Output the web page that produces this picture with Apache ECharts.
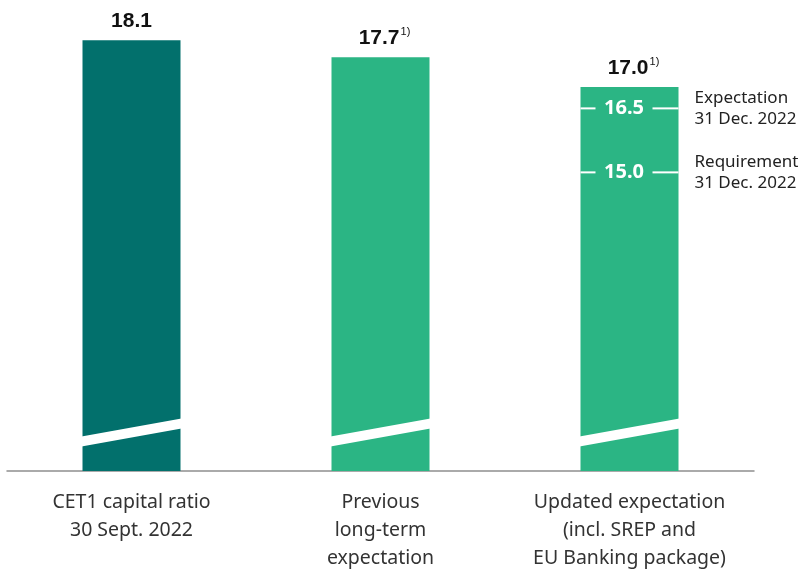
<!DOCTYPE html>
<html>
<head>
<meta charset="utf-8">
<title>CET1 capital ratio</title>
<script src="https://cdn.jsdelivr.net/npm/echarts@6/dist/echarts.min.js"></script>
<style>
  html, body { margin: 0; padding: 0; background: #ffffff; }
  #chart { width: 801px; height: 570px; }
</style>
</head>
<body>
<div id="chart"></div>
<script>
// Categories and CET1 ratios (%)
const categories = [
  'CET1 capital ratio\n30 Sept. 2022',
  'Previous\nlong-term\nexpectation',
  'Updated expectation\n(incl. SREP and\nEU Banking package)'
];
const ratios = [18.1, 17.7, 17.0];
const footnotes = ['', '1)', '1)'];

// Reference levels shown inside the third bar
const markerCategory = 2;
const markerValues = [16.5, 15.0];
const markerNotes = [
  ['Expectation', '31 Dec. 2022'],
  ['Requirement', '31 Dec. 2022']
];

// Value where the bars are visually cut (the axis does not start at zero)
const axisBreakAt = 8.9;

// Styling
const BAR_COLORS = ['#02706c', '#2bb584', '#2bb584'];
const BAR_WIDTH = 98;
const NUM_FONT = '"Liberation Sans", Arial, sans-serif';
const TEXT_FONT = '"Noto Sans", "Open Sans", sans-serif';

const chart = echarts.init(document.getElementById('chart'), null, { renderer: 'canvas' });

const barData = ratios.map((v, i) => ({
  value: v,
  itemStyle: { color: BAR_COLORS[i] },
  label: footnotes[i] ? { offset: [4, 0] } : {}
}));

const option = {
  backgroundColor: '#ffffff',
  animation: false,
  grid: { left: 7, right: 47, top: 6, bottom: 99, containLabel: false, outerBoundsMode: 'none' },
  xAxis: {
    type: 'category',
    data: categories,
    axisTick: { show: false },
    axisLine: { lineStyle: { color: '#8f8f8f', width: 1.5 } },
    axisLabel: {
      interval: 0,
      margin: 17,
      fontFamily: TEXT_FONT,
      fontSize: 19.5,
      lineHeight: 28,
      color: '#333333'
    }
  },
  yAxis: {
    type: 'value',
    min: 8,
    max: 18.9,
    show: false,
    splitLine: { show: false }
  },
  series: [
    {
      type: 'bar',
      data: barData,
      barWidth: BAR_WIDTH,
      z: 2,
      label: {
        show: true,
        position: 'top',
        distance: 7,
        formatter: (p) => {
          const fn = footnotes[p.dataIndex];
          return '{v|' + p.value.toFixed(1) + '}' + (fn ? '{s|' + fn + '}' : '');
        },
        rich: {
          v: { fontFamily: NUM_FONT, fontSize: 21, fontWeight: 'bold', color: '#111111', lineHeight: 24 },
          s: { fontFamily: NUM_FONT, fontSize: 11, color: '#111111', verticalAlign: 'top', lineHeight: 24, padding: [0, 0, 3, 1] }
        }
      }
    },
    {
      // White slanted cut across each bar
      type: 'custom',
      z: 5,
      silent: true,
      data: ratios.map((_, i) => [i, axisBreakAt]),
      renderItem: (params, api) => {
        const p = api.coord([api.value(0), api.value(1)]);
        const half = BAR_WIDTH / 2 + 1;
        const rise = 9, thick = 5;
        return {
          type: 'polygon',
          shape: {
            points: [
              [p[0] - half, p[1] + rise - thick],
              [p[0] + half, p[1] - rise - thick],
              [p[0] + half, p[1] - rise + thick],
              [p[0] - half, p[1] + rise + thick]
            ]
          },
          style: { fill: '#ffffff' }
        };
      }
    },
    {
      // Expectation / requirement levels inside the updated-expectation bar
      type: 'custom',
      z: 6,
      silent: true,
      data: markerValues.map(v => [markerCategory, v]),
      renderItem: (params, api) => {
        const val = api.value(1);
        const p = api.coord([api.value(0), val]);
        const half = BAR_WIDTH / 2;
        const gapCenter = p[0] - 5.5, gapHalf = 28.5;
        const note = markerNotes[params.dataIndex];
        const lineStyle = { stroke: '#ffffff', lineWidth: 2 };
        return {
          type: 'group',
          children: [
            { type: 'line', shape: { x1: p[0] - half, y1: p[1], x2: gapCenter - gapHalf, y2: p[1] }, style: lineStyle },
            { type: 'line', shape: { x1: gapCenter + gapHalf, y1: p[1], x2: p[0] + half, y2: p[1] }, style: lineStyle },
            {
              type: 'text',
              x: gapCenter, y: p[1],
              style: {
                text: val.toFixed(1),
                fill: '#ffffff',
                font: 'bold 20px ' + TEXT_FONT,
                align: 'center',
                verticalAlign: 'middle'
              }
            },
            {
              type: 'text',
              x: p[0] + half + 16, y: p[1],
              style: {
                text: note.join('\n'),
                fill: '#222222',
                font: '17px ' + TEXT_FONT,
                lineHeight: 21,
                align: 'left',
                verticalAlign: 'middle'
              }
            }
          ]
        };
      }
    }
  ]
};

chart.setOption(option);
</script>
</body>
</html>
